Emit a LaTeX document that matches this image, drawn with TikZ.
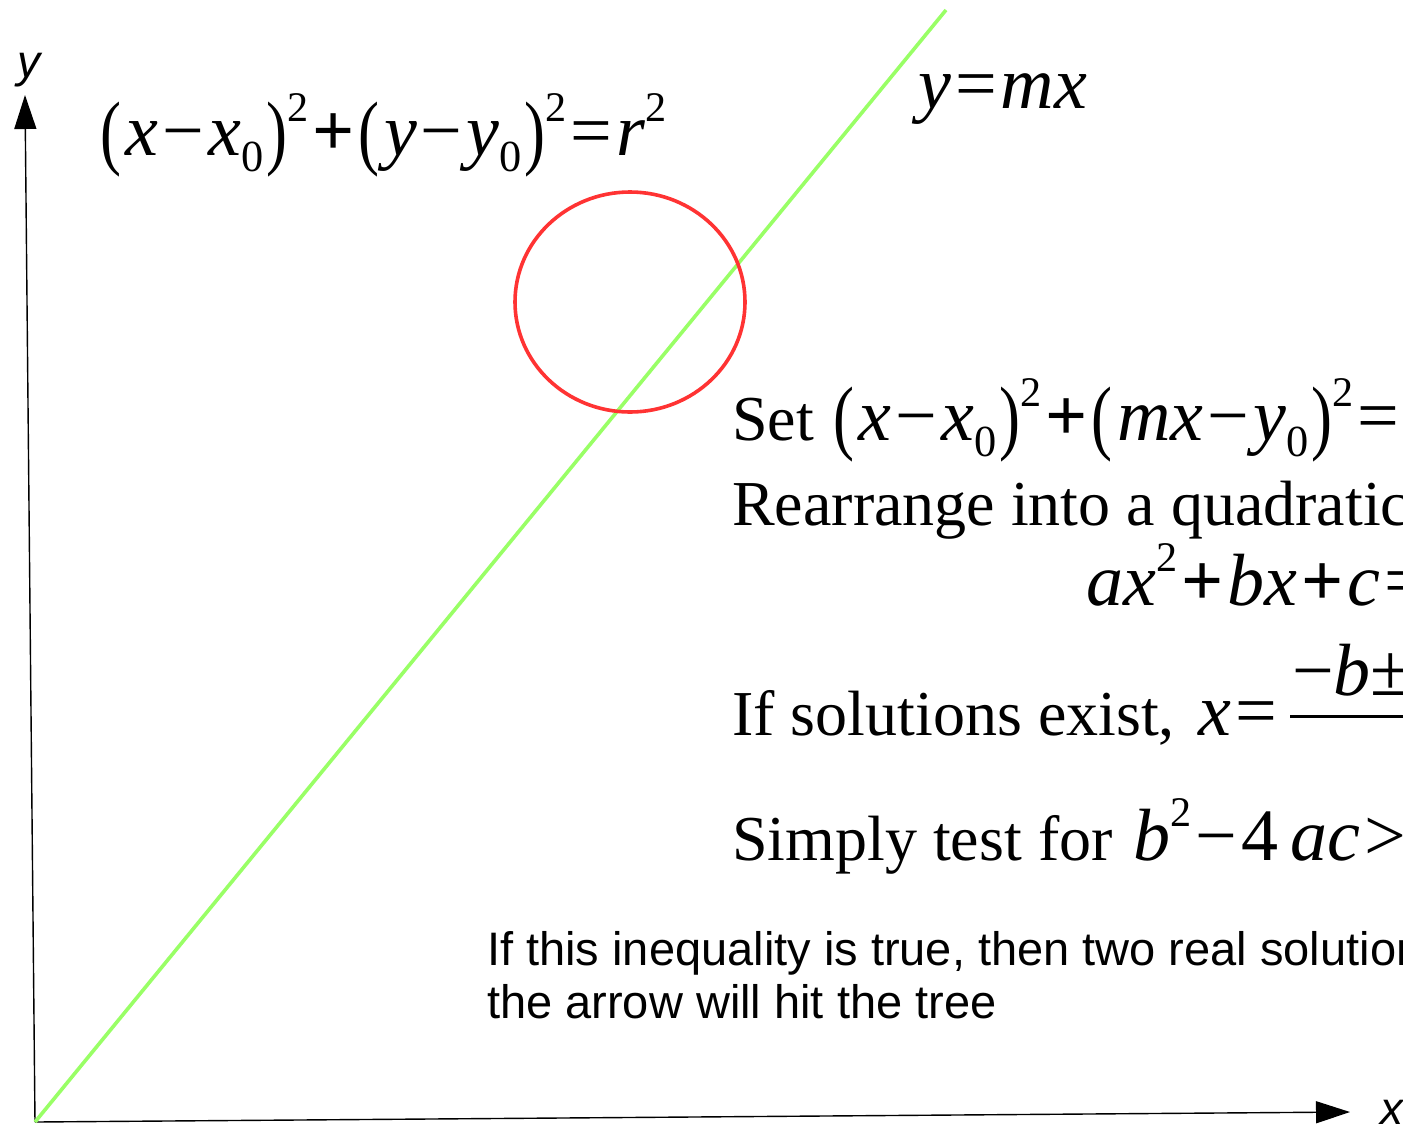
\documentclass[tikz,border=0pt]{standalone}
\usepackage{fontspec}
\usepackage{graphicx}
\setmainfont{Liberation Serif}
\newfontfamily\sansfont{Liberation Sans}
\usetikzlibrary{arrows.meta,shapes.geometric}
\definecolor{linegreen}{RGB}{153,255,102}
\definecolor{circred}{RGB}{255,51,51}
\newcommand{\mv}[1]{\textit{#1}}
\newcommand{\msub}[1]{\raisebox{-0.22em}{\scalebox{0.6}{#1}}}
\newcommand{\msup}[1]{\raisebox{0.45em}{\scalebox{0.57}{#1}}}
\newcommand{\mop}[1]{\kern0.055em#1\kern0.055em}
\newcommand{\lpar}{\raisebox{-0.06em}{\scalebox{0.85}[1.12]{(}}\kern0.06em}
\newcommand{\rpar}{\kern0.04em\raisebox{-0.06em}{\scalebox{0.85}[1.12]{)}}}
\newcommand{\mplus}{\mop{\textbf{+}}}
\tikzset{
  axis/.style={line width=1.4pt, black, -{Triangle[length=34pt,width=22pt]}},
  mathtxt/.style={anchor=base west, inner sep=0pt, font=\fontsize{74}{80}\selectfont},
  serif/.style={anchor=base west, inner sep=0pt, font=\fontsize{64}{70}\selectfont},
  sanstxt/.style={anchor=base west, inner sep=0pt, align=left, font=\sansfont\fontsize{47}{53}\selectfont},
  axlabel/.style={inner sep=0pt, font=\sansfont\itshape\fontsize{46}{50}\selectfont}
}
\begin{document}
\begin{tikzpicture}[x=1pt,y=-1pt]
\useasboundingbox (0,0) rectangle (1403,1128);
\clip (0,0) rectangle (1403,1128);
% axes
\coordinate (origin) at (35,1122);
\coordinate (ytip) at (25,95);
\coordinate (xtip) at (1350,1112);
\draw[axis] (origin) -- (ytip);
\draw[axis] (origin) -- (xtip);
\node[axlabel] (ylab) at (29,70) {y};
\node[axlabel] (xlab) at (1392,1112) {x};
% line y = mx
\coordinate (lineend) at (946,10);
\draw[linegreen, line width=3.6pt] (origin) -- (lineend);
% circle
\node[draw=circred, line width=3.6pt, ellipse, minimum width=230pt, minimum height=220pt, inner sep=0pt] (circ) at (630,302) {};
% formulas
\node[mathtxt] (circeq) at (100,155) {\lpar\mv{x}\mop{−}\mv{x}\msub{0}\rpar\msup{2}\mplus\lpar\mv{y}\mop{−}\mv{y}\msub{0}\rpar\msup{2}\mop{=}\mv{r}\msup{2}};
\node[mathtxt] (lineeq) at (918,108) {\mv{y}\mop{=}\mv{mx}};
% right block
\node[serif] (set) at (732,440) {Set};
\node[mathtxt] (seteq) at (833,440) {\lpar\mv{x}\mop{−}\mv{x}\msub{0}\rpar\msup{2}\mplus\lpar\mv{mx}\mop{−}\mv{y}\msub{0}\rpar\msup{2}\mop{=}\mv{r}\msup{2}};
\node[serif] (rearr) at (732,525) {Rearrange into a quadratic};
\node[mathtxt] (quad) at (1086,605) {\mv{ax}\msup{2}\mplus\mv{bx}\mplus\mv{c}\mop{=}0};
\node[serif] (ifsol) at (732,735) {If solutions exist,};
\node[mathtxt] (solx) at (1198,735) {\mv{x}\mop{=}};
\node[mathtxt] (numer) at (1292,695) {−\mv{b}±};
\draw[line width=3pt] (1290,716) -- (1520,716);
\node[serif] (simply) at (732,860) {Simply test for};
\node[mathtxt] (disc) at (1133,860) {\mv{b}\msup{2}\mop{−}4\,\mv{ac}\mop{>}0};
\node[sanstxt] (note) at (487,1018) {If this inequality is true, then two real solutions\\the arrow will hit the tree};
\end{tikzpicture}
\end{document}
